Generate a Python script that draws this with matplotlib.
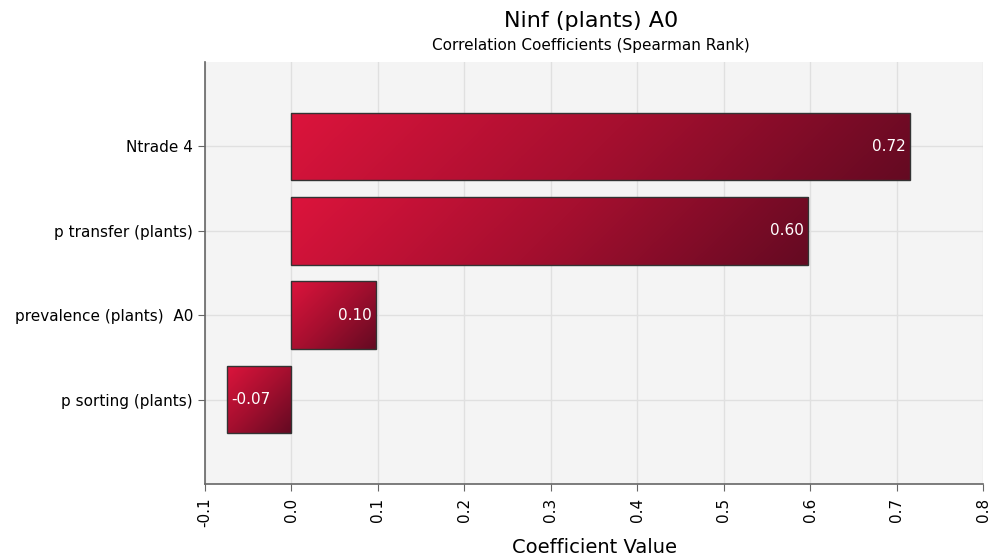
import numpy as np
import matplotlib.pyplot as plt
from matplotlib.colors import LinearSegmentedColormap

# data (bottom to top)
labels = ['p sorting (plants)', 'prevalence (plants)  A0', 'p transfer (plants)', 'Ntrade 4']
values = [-0.074, 0.098, 0.598, 0.715]
value_text = ['-0.07', '0.10', '0.60', '0.72']
x_ticks = [-0.1, 0.0, 0.1, 0.2, 0.3, 0.4, 0.5, 0.6, 0.7, 0.8]

plt.rcParams['font.family'] = ['DejaVu Sans']

cmap = LinearSegmentedColormap.from_list('crimson', ['#dc143c', '#a50f2f', '#640a22'])

fig = plt.figure(figsize=(9.9, 5.6), dpi=100)
ax = fig.add_axes([0.207, 0.136, 0.786, 0.753])
ax.set_facecolor('#f4f4f4')
ax.set_xlim(-0.1, 0.8)
ax.set_ylim(-1, 4)

ypos = np.arange(len(labels))
bars = ax.barh(ypos, values, height=0.8, color='none', edgecolor='#333333', linewidth=1.0, zorder=3)

fig.canvas.draw()
for bar in bars:
    bb = bar.get_window_extent()
    w_px, h_px = max(bb.width, 1), max(bb.height, 1)
    nx, ny = int(w_px), int(h_px)
    gx = np.linspace(0, w_px, nx)
    gy = np.linspace(0, h_px, ny)
    X, Y = np.meshgrid(gx, gy)
    # 45 degree gradient in pixel space, top-left light to bottom-right dark
    grad = (X + Y) / (w_px + h_px)
    x0, y0 = bar.get_x(), bar.get_y()
    x1, y1 = x0 + bar.get_width(), y0 + bar.get_height()
    im = ax.imshow(grad, cmap=cmap, vmin=0, vmax=1, aspect='auto', origin='upper',
                   extent=[min(x0, x1), max(x0, x1), y0, y1], zorder=2,
                   interpolation='bilinear')
    im.set_clip_path(bar)

for y, v, t in zip(ypos, values, value_text):
    if v >= 0:
        ax.text(v - 0.005, y, t, ha='right', va='center', color='white', fontsize=11, zorder=4)
    else:
        ax.text(v + 0.005, y, t, ha='left', va='center', color='white', fontsize=11, zorder=4)

ax.set_xlim(-0.1, 0.8)
ax.set_ylim(-1, 4)
ax.set_yticks(ypos)
ax.set_yticklabels(labels, fontsize=11)
ax.set_xticks(x_ticks)
ax.set_xticklabels([f'{t:.1f}' for t in x_ticks], rotation=90, fontsize=11)
ax.grid(True, color='#e0e0e0', linewidth=1.0, zorder=0)
ax.set_axisbelow(True)

for s in ['top', 'right']:
    ax.spines[s].set_visible(False)
for s in ['left', 'bottom']:
    ax.spines[s].set_color('#666666')
    ax.spines[s].set_linewidth(1.2)
ax.tick_params(colors='#666666', labelcolor='black', length=5)
ax.tick_params(axis='x', pad=5)

ax.set_xlabel('Coefficient Value', fontsize=14, labelpad=8)
fig.text(0.597, 0.945, 'Ninf (plants) A0', ha='center', va='bottom', fontsize=16)
fig.text(0.597, 0.905, 'Correlation Coefficients (Spearman Rank)', ha='center', va='bottom', fontsize=11)

plt.savefig('out.png', dpi=100)
